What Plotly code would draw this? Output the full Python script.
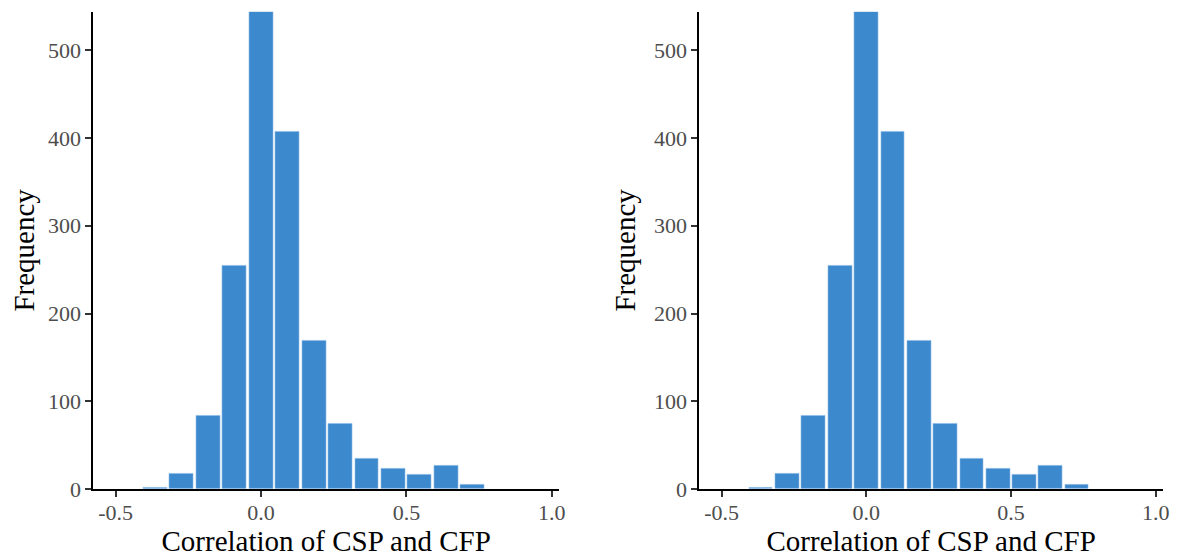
import plotly.graph_objects as go

# Bin centers (correlation of CSP and CFP), bin width 1/11
bin_centers = [-0.364, -0.273, -0.182, -0.091, 0.0, 0.091, 0.182, 0.273, 0.364, 0.455, 0.545, 0.636, 0.727]
frequency = [2, 17, 84, 255, 544, 407, 169, 75, 35, 23, 16, 26, 5]
bin_width = 0.0909

x_ticks = [-0.5, 0.0, 0.5, 1.0]
x_tick_labels = ["-0.5", "0.0", "0.5", "1.0"]
y_ticks = [0, 100, 200, 300, 400, 500]

BAR = "#3d89cd"
FONT = "Liberation Serif"

fig = go.Figure()
for i, ax in enumerate(["", "2"]):
    fig.add_trace(go.Bar(
        x=bin_centers, y=frequency, width=bin_width * 0.9,
        marker=dict(color=BAR, line=dict(color="#8dbbe6", width=0.6)),
        xaxis="x" + ax, yaxis="y" + ax, showlegend=False,
        hovertemplate="%{x}: %{y}<extra></extra>",
    ))

# page body has an 8px margin; figure sized so it fits the 1180x558 window
OFF = 8
W, H = 1180 - OFF, 558 - OFF
dom_x = [[(93.3 - OFF) / W, (559 - OFF) / W], [(699.3 - OFF) / W, (1163 - OFF) / W]]
dom_y = [(H - (489 - OFF)) / H, (H - (11.7 - OFF)) / H]

axis_common = dict(
    showgrid=False, zeroline=False, showline=True, linecolor="#000000", linewidth=2,
    ticks="outside", ticklen=6, tickwidth=2, tickcolor="#333333",
    tickfont=dict(family=FONT, size=22, color="#4d4d4d"),
)

layout = dict(
    width=W, height=H, margin=dict(l=0, r=0, t=0, b=0),
    paper_bgcolor="white", plot_bgcolor="white", bargap=0,
    font=dict(family=FONT),
)
for i, ax in enumerate(["", "2"]):
    layout["xaxis" + ax] = dict(
        axis_common, domain=dom_x[i], range=[-0.577, 1.025], anchor="y" + ax,
        tickvals=x_ticks, ticktext=x_tick_labels, ticklabelstandoff=-3,
        title=dict(text="Correlation of CSP and CFP", font=dict(family=FONT, size=29, color="#000000"), standoff=2),
    )
    layout["yaxis" + ax] = dict(
        axis_common, domain=dom_y, range=[0, 544], anchor="x" + ax,
        tickvals=y_ticks,
        title=dict(text="Frequency", font=dict(family=FONT, size=29, color="#000000"), standoff=10),
    )
fig.update_layout(**layout)
fig.update_xaxes(automargin=False)
fig.update_yaxes(automargin=False)
fig.write_html("out.html")
